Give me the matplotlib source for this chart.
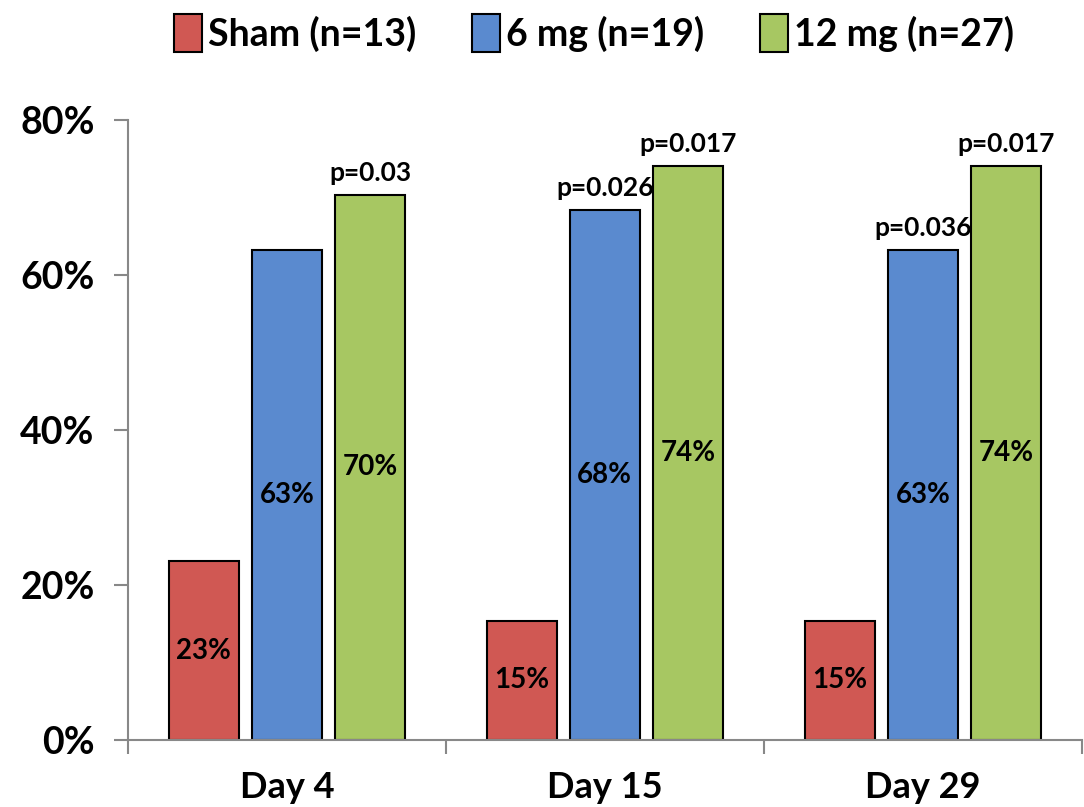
import matplotlib.pyplot as plt
import numpy as np

days = ["Day 4", "Day 15", "Day 29"]
groups = ["Sham (n=13)", "6 mg (n=19)", "12 mg (n=27)"]
sham = [23.1, 15.4, 15.4]
mg6 = [63.2, 68.4, 63.2]
mg12 = [70.4, 74.1, 74.1]
p_6mg = [None, "p=0.026", "p=0.036"]
p_12mg = ["p=0.03", "p=0.017", "p=0.017"]
colors = ["#D05853", "#5A8ACF", "#A7C762"]

plt.rcParams['font.family'] = ['Lato', 'DejaVu Sans']
plt.rcParams['font.weight'] = 'bold'

fig = plt.figure(figsize=(10.84, 8.07), dpi=100)
ax = fig.add_axes([0.118, 0.083, 0.880, 0.768])

x = np.arange(len(days))
width = 0.22
offsets = [-0.262, 0.0, 0.262]
series = [sham, mg6, mg12]
for vals, off, col, name in zip(series, offsets, colors, groups):
    bars = ax.bar(x + off, vals, width, color=col, edgecolor='black',
                  linewidth=1.5, label=name)
    for b, v in zip(bars, vals):
        ax.text(b.get_x() + b.get_width() / 2, v / 2, "%d%%" % round(v),
                ha='center', va='center', fontsize=20, fontweight='bold')

for i in range(len(days)):
    if p_6mg[i]:
        ax.text(x[i] + offsets[1], mg6[i] + 1.3, p_6mg[i], ha='center',
                va='bottom', fontsize=19, fontweight='bold')
    ax.text(x[i] + offsets[2], mg12[i] + 1.3, p_12mg[i], ha='center',
            va='bottom', fontsize=19, fontweight='bold')

ax.set_xlim(-0.5, 2.5)
ax.set_ylim(0, 80)
ax.set_yticks([0, 20, 40, 60, 80])
ax.set_yticklabels(["0%", "20%", "40%", "60%", "80%"], fontsize=27, fontweight='bold')
ax.set_xticks([-0.5, 0.5, 1.5, 2.5])
ax.set_xticklabels([])
ax.set_xticks(x, minor=True)
ax.set_xticklabels(days, minor=True, fontsize=26, fontweight='bold')
ax.tick_params(axis='x', which='minor', length=0, pad=22)
ax.tick_params(axis='x', which='major', length=10, width=1.5, color='#888888', direction='out')
ax.tick_params(axis='y', length=10, width=1.5, color='#888888', pad=14)

for s in ['top', 'right']:
    ax.spines[s].set_visible(False)
for s in ['left', 'bottom']:
    ax.spines[s].set_color('#888888')
    ax.spines[s].set_linewidth(1.5)

fig.legend(loc='upper center', bbox_to_anchor=(0.548, 1.025), ncol=3, frameon=False,
           prop={'size': 27, 'weight': 'bold'}, handlelength=0.75, handleheight=1.2,
           handletextpad=0.15, columnspacing=1.5)

fig.savefig("out.png")
